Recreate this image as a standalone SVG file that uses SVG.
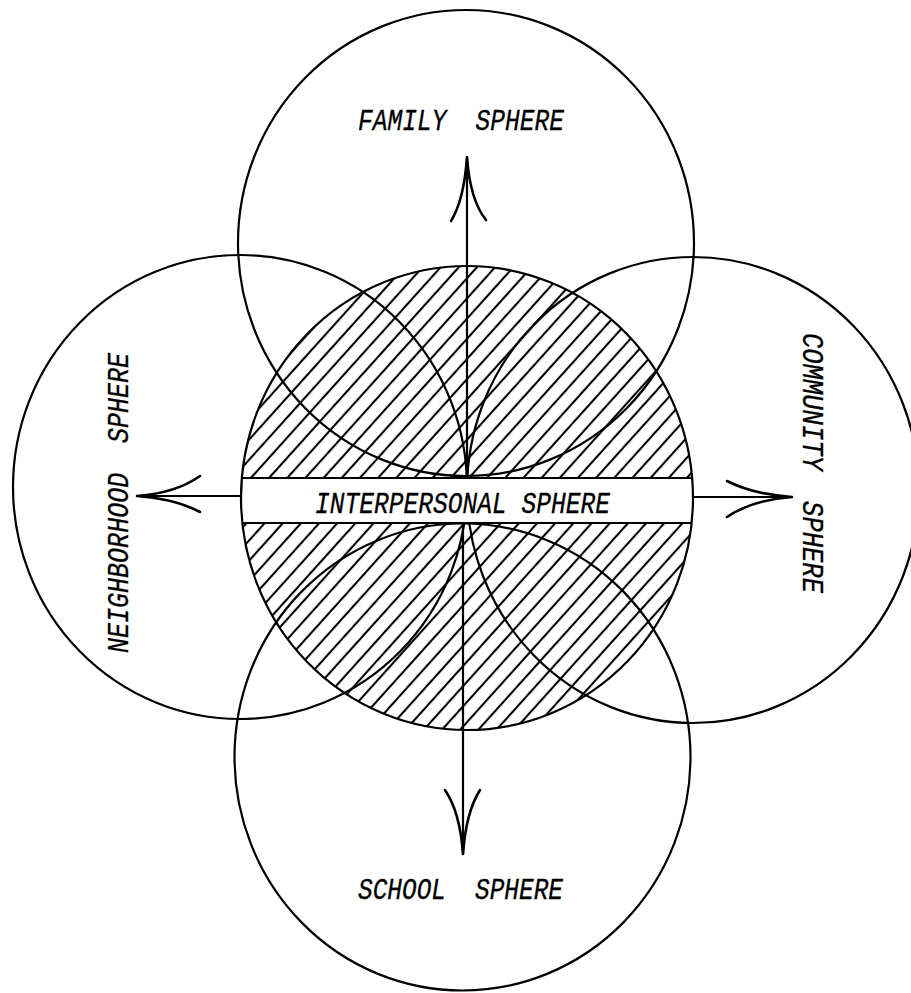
<svg xmlns="http://www.w3.org/2000/svg" width="911" height="993" viewBox="0 0 911 993">
  <style>
    .c { fill: none; stroke: #000; stroke-width: 2.2; }
    .t { font-family: "Liberation Mono", "Courier New", monospace; font-style: italic; font-size: 29px; fill: #000; stroke: #000; stroke-width: 0.3; }
    .ln { stroke: #000; stroke-width: 2.2; fill: none; }
    .hd { stroke: #000; stroke-width: 2.6; fill: none; stroke-linecap: round; }
  </style>
  <defs>
    <pattern id="hatch" patternUnits="userSpaceOnUse" width="13.5" height="30" patternTransform="rotate(42)">
      <line x1="6.75" y1="-5" x2="6.75" y2="35" stroke="#000" stroke-width="2.1"/>
    </pattern>
    <clipPath id="inner">
      <ellipse cx="467" cy="498" rx="226" ry="232"/>
    </clipPath>
  </defs>
  <rect width="911" height="993" fill="#fff"/>

  <g id="interpersonal-hatch">
    <ellipse cx="467" cy="498" rx="226" ry="232" fill="url(#hatch)"/>
  </g>

  <g id="family">
    <ellipse class="c" cx="466" cy="243" rx="228" ry="233"/>
    <text class="t" x="358" y="130" word-spacing="17" textLength="206" lengthAdjust="spacingAndGlyphs">FAMILY SPHERE</text>
  </g>
  <g id="school">
    <ellipse class="c" cx="462.5" cy="757" rx="228" ry="233.5"/>
    <text class="t" x="358" y="899" word-spacing="17" textLength="205" lengthAdjust="spacingAndGlyphs">SCHOOL SPHERE</text>
  </g>
  <g id="neighborhood">
    <ellipse class="c" cx="240" cy="487" rx="227" ry="232"/>
    <text class="t" transform="translate(128,653) rotate(-90)" word-spacing="17" textLength="300" lengthAdjust="spacingAndGlyphs">NEIGHBORHOOD SPHERE</text>
  </g>
  <g id="community">
    <ellipse class="c" cx="693" cy="490" rx="226" ry="233"/>
    <text class="t" transform="translate(803,333) rotate(90)" word-spacing="17" textLength="260" lengthAdjust="spacingAndGlyphs">COMMUNITY SPHERE</text>
  </g>

  <g id="interpersonal">
    <rect x="230" y="478" width="480" height="45" fill="#fff" clip-path="url(#inner)"/>
    <ellipse class="c" cx="467" cy="498" rx="226" ry="232"/>
    <line class="ln" x1="241.5" y1="478" x2="692.5" y2="478"/>
    <line class="ln" x1="242" y1="523" x2="692" y2="523"/>
    <text class="t" x="315" y="513" textLength="295" lengthAdjust="spacingAndGlyphs">INTERPERSONAL SPHERE</text>
  </g>

  <g id="connectors">
    <line class="ln" x1="467" y1="158" x2="467" y2="478"/>
    <path class="hd" d="M467,157 Q464,200 451,221 M467,157 Q470,200 486,220"/>
    <line class="ln" x1="463" y1="523" x2="463" y2="853"/>
    <path class="hd" d="M463,854 Q460,812 445,790 M463,854 Q466,812 480,790"/>
    <line class="ln" x1="138" y1="496" x2="242" y2="496"/>
    <path class="hd" d="M137,496 Q176,493 200,476 M137,496 Q176,499 200,512"/>
    <line class="ln" x1="692" y1="497" x2="791" y2="497"/>
    <path class="hd" d="M792,497 Q752,494 727,481 M792,497 Q752,500 727,517"/>
  </g>
</svg>
